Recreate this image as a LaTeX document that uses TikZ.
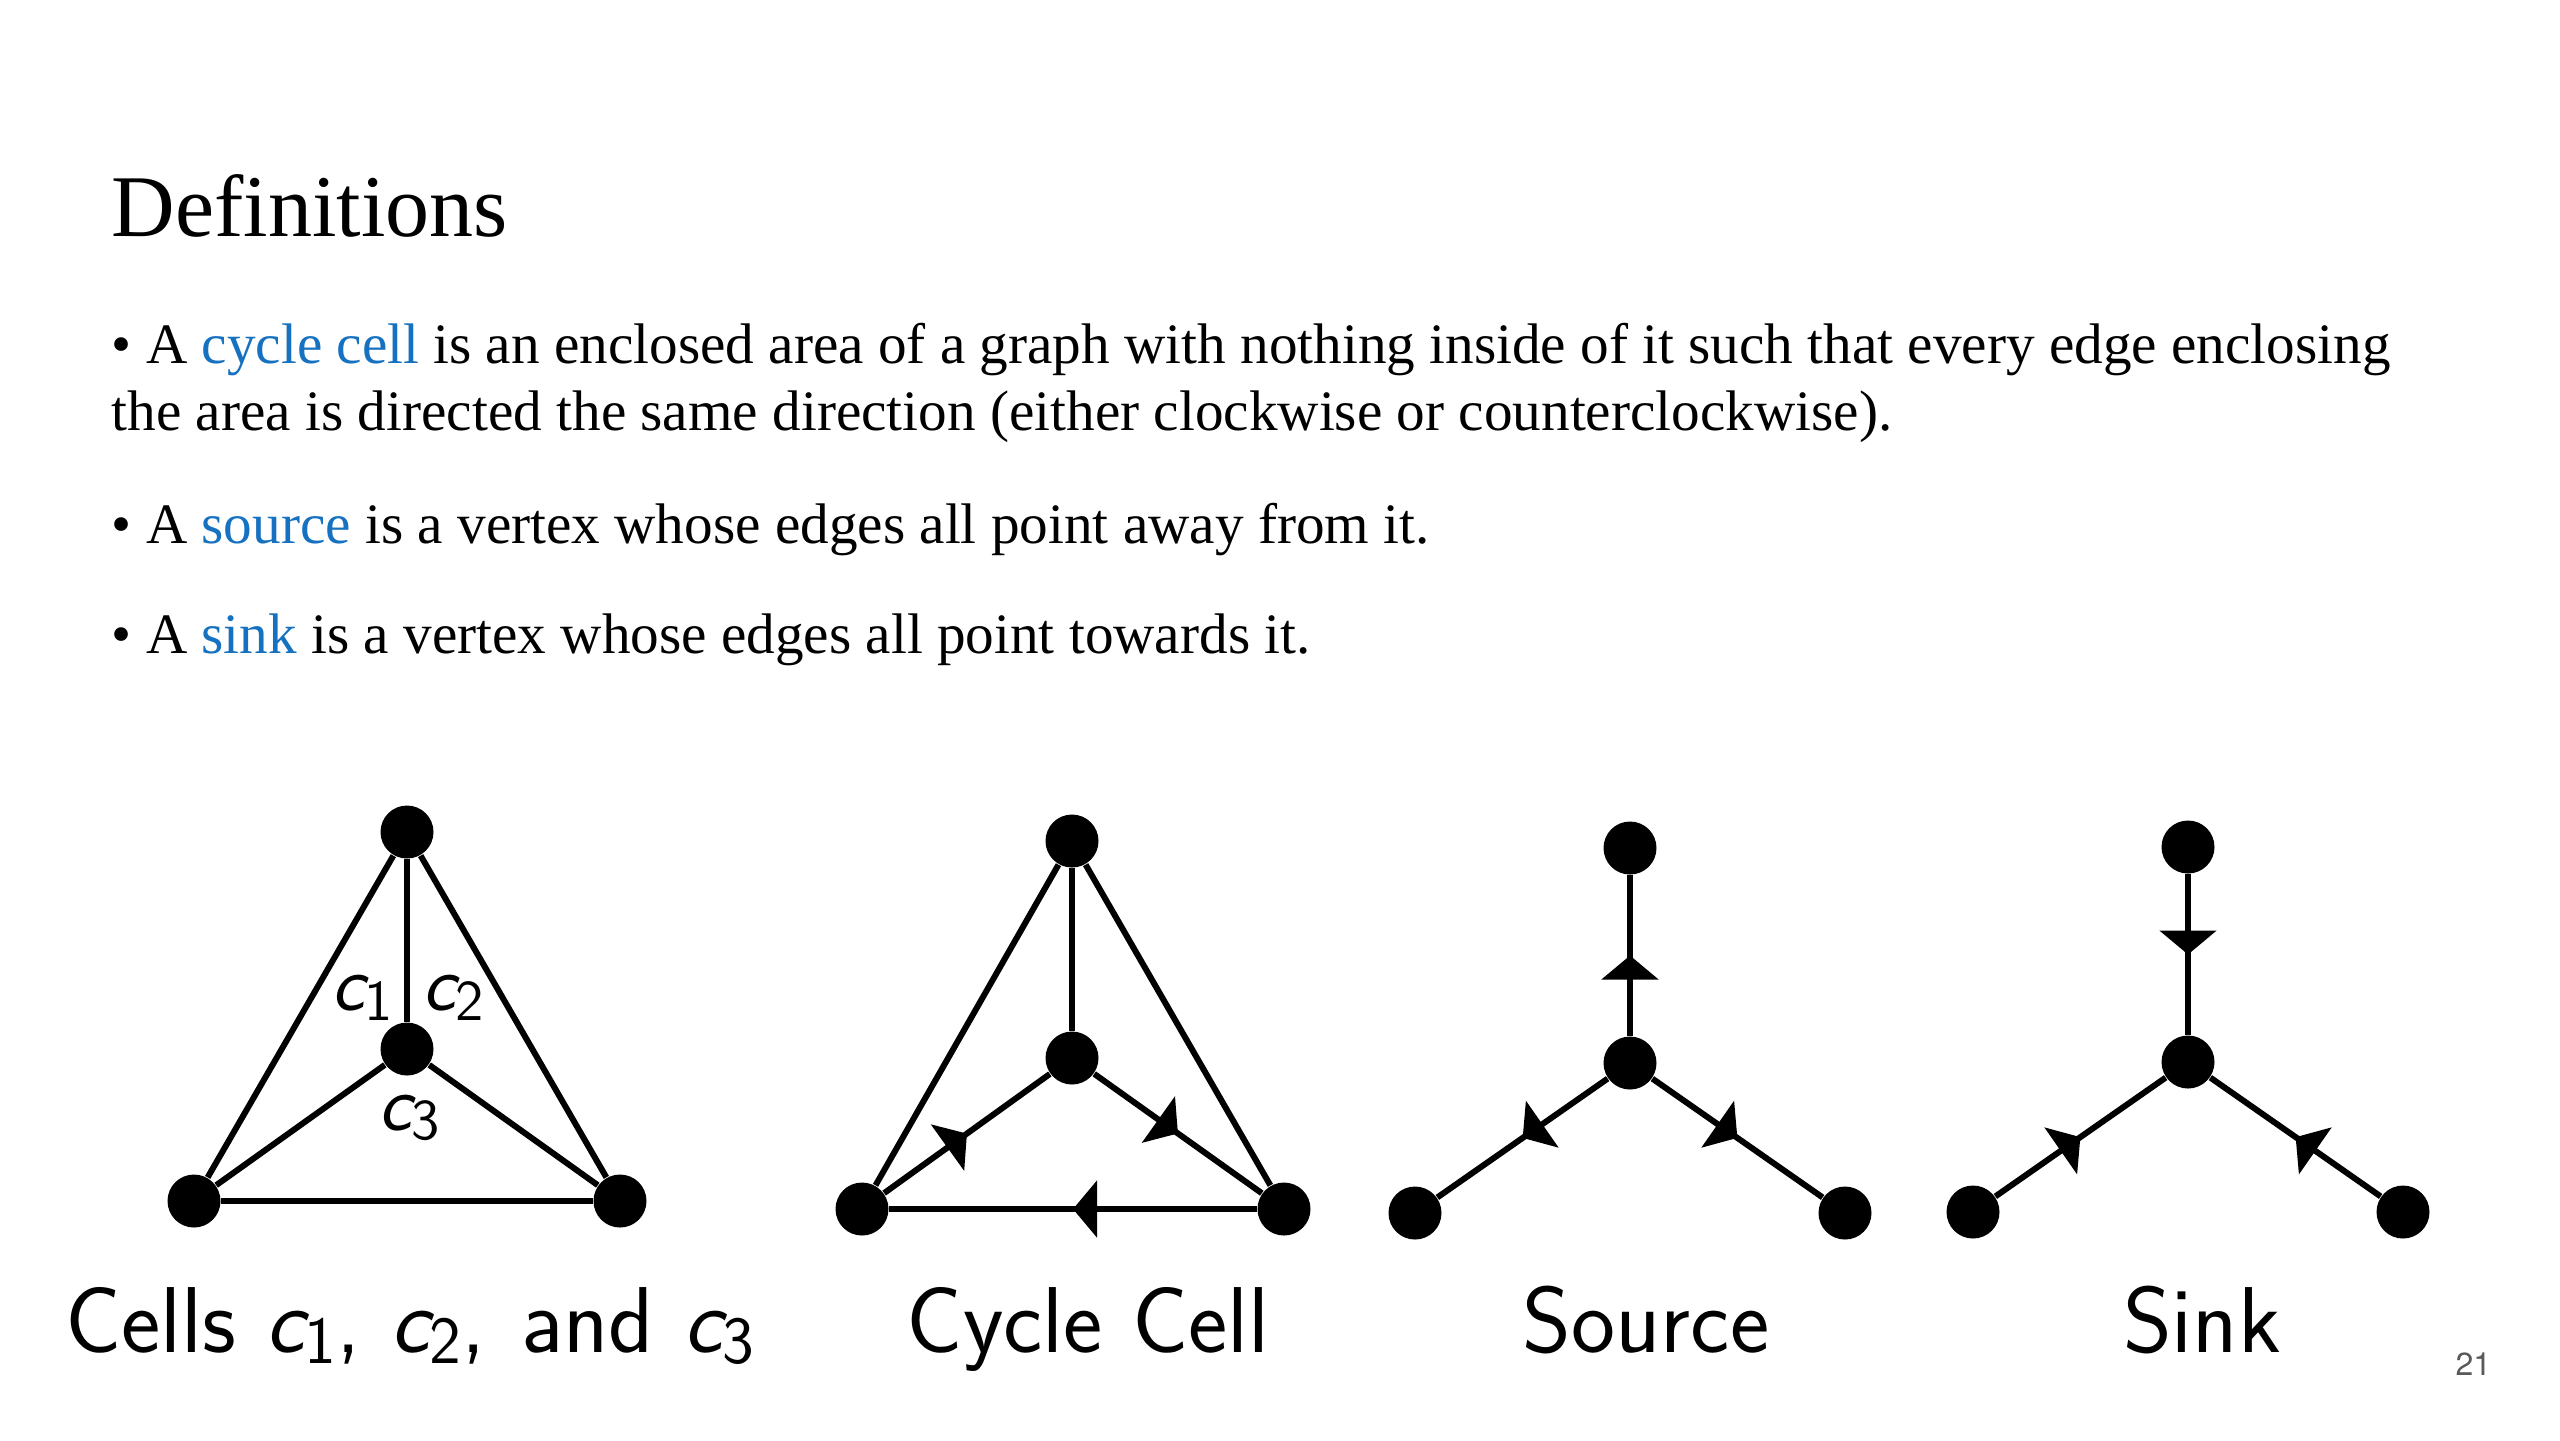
\documentclass[tikz,border=0pt]{standalone}
\usepackage{fontspec}
\setmainfont{Liberation Serif}
\newfontfamily\numfont{TeX Gyre Heros}
\usetikzlibrary{arrows.meta,decorations.markings}
\definecolor{defblue}{RGB}{22,114,192}
\definecolor{pagegray}{RGB}{90,90,90}
\newcommand{\blu}[1]{\textcolor{defblue}{#1}}
\newcommand{\cc}[1]{{\slshape c}\raisebox{-0.28ex}{\fontsize{0.72em}{0.8em}\selectfont\upshape #1}}
\tikzset{
  vtx/.style={circle,fill=black,inner sep=0pt,minimum size=13.25pt},
  edg/.style={line width=1.5pt},
  midarrow/.style={edg,postaction={decorate},decoration={markings,
      mark=at position 0.5 with {\arrow{Triangle[width=14pt,length=6pt]}}}},
  ttltxt/.style={anchor=base west,inner sep=0pt,font=\fontsize{22pt}{26pt}\selectfont},
  bodytxt/.style={anchor=base west,inner sep=0pt,font=\fontsize{14.3pt}{17pt}\selectfont},
  captxt/.style={anchor=base,inner sep=0pt,font=\sffamily\fontsize{23.4pt}{27pt}\selectfont},
  clab/.style={inner sep=0pt,font=\sffamily\fontsize{20pt}{22pt}\selectfont}
}
\begin{document}
\begin{tikzpicture}[x=0.25pt,y=-0.25pt]
\useasboundingbox[fill=white] (0,0) rectangle (2560,1440);
% text
\node[ttltxt] (ttl) at (111,236) {Definitions};
\node[bodytxt] (l1) at (111,363) {\textbullet\ A \blu{cycle cell} is an enclosed area of a graph with nothing inside of it such that every edge enclosing};
\node[bodytxt] (l2) at (111,430) {the area is directed the same direction (either clockwise or counterclockwise).};
\node[bodytxt] (l3) at (111,543) {\textbullet\ A \blu{source} is a vertex whose edges all point away from it.};
\node[bodytxt] (l4) at (111,653) {\textbullet\ A \blu{sink} is a vertex whose edges all point towards it.};
% left: cells
\node[vtx] (T1) at (407,832) {};
\node[vtx] (M1) at (407,1049) {};
\node[vtx] (L1) at (194,1201) {};
\node[vtx] (R1) at (620,1201) {};
\draw[edg] (T1) -- (M1);
\draw[edg] (T1) -- (L1);
\draw[edg] (T1) -- (R1);
\draw[edg] (M1) -- (L1);
\draw[edg] (M1) -- (R1);
\draw[edg] (L1) -- (R1);
\node[clab] (c1) at (362,998) {\cc{1}};
\node[clab] (c2) at (453,998) {\cc{2}};
\node[clab] (c3) at (409,1118) {\cc{3}};
\node[captxt] (cap1) at (410,1352) {Cells \cc{1}, \cc{2},\hspace{9pt}and\ \cc{3}};
% cycle cell
\node[vtx] (T2) at (1072,841) {};
\node[vtx] (M2) at (1072,1058) {};
\node[vtx] (L2) at (862,1209) {};
\node[vtx] (R2) at (1284,1209) {};
\draw[edg] (T2) -- (M2);
\draw[edg] (T2) -- (L2);
\draw[edg] (T2) -- (R2);
\draw[midarrow] (L2) -- (M2);
\draw[midarrow] (M2) -- (R2);
\draw[midarrow] (R2) -- (L2);
\node[captxt] (cap2) at (1088,1352) {Cycle Cell};
% source
\node[vtx] (T3) at (1630,848) {};
\node[vtx] (M3) at (1630,1063) {};
\node[vtx] (L3) at (1415,1213) {};
\node[vtx] (R3) at (1845,1213) {};
\draw[midarrow] (M3) -- (T3);
\draw[midarrow] (M3) -- (L3);
\draw[midarrow] (M3) -- (R3);
\node[captxt] (cap3) at (1646,1352) {Source};
% sink
\node[vtx] (T4) at (2188,847) {};
\node[vtx] (M4) at (2188,1062) {};
\node[vtx] (L4) at (1973,1212) {};
\node[vtx] (R4) at (2403,1212) {};
\draw[midarrow] (T4) -- (M4);
\draw[midarrow] (L4) -- (M4);
\draw[midarrow] (R4) -- (M4);
\node[captxt] (cap4) at (2202,1352) {Sink};
% page number
\node[anchor=base east,inner sep=0pt,text=pagegray,font=\numfont\fontsize{8pt}{9pt}\selectfont] (pg) at (2492,1375) {21};
\end{tikzpicture}
\end{document}
